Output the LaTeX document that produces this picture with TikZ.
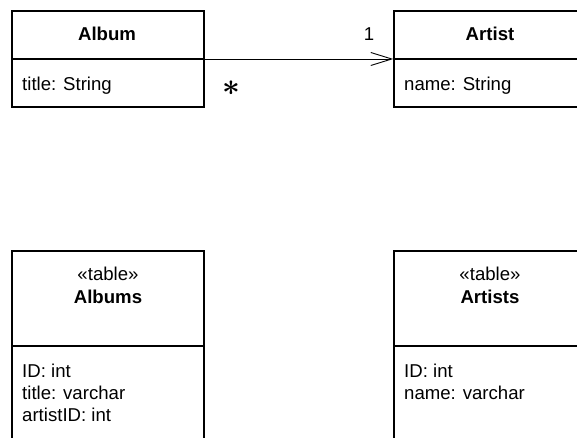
\documentclass[tikz,border=0pt]{standalone}
\usepackage{fontspec}
\setmainfont{Liberation Sans}
\usetikzlibrary{arrows.meta}
\begin{document}
\begin{tikzpicture}[x=1pt,y=-1pt,
  box/.style={draw, line width=1.4pt, minimum width=192pt, minimum height=96pt, inner sep=0pt},
  tbl/.style={draw, line width=1.4pt},
  lbl/.style={font=\fontsize{18.6}{22}\selectfont, inner sep=0pt},
  blbl/.style={font=\fontsize{18.6}{22}\selectfont\bfseries, inner sep=0pt, anchor=base},
  attr/.style={lbl, anchor=base west},
  conn/.style={line width=0.9pt}]
\useasboundingbox (0,0) rectangle (577,438);
\clip (0,0) rectangle (577,438);
% top classes
\node[box] (album) at (108,59) {};
\node[box] (artist) at (490,59) {};
\draw[line width=1.4pt] (album.west) -- (album.east);
\draw[line width=1.4pt] (artist.west) -- (artist.east);
\node[blbl] (albumname) at (107,41) {Album};
\node[blbl] (artistname) at (490,41) {Artist};
\node[attr] (albumattr) at (22,91) {title: String};
\node[attr] (artistattr) at (404,91) {name: String};
% association
\draw[conn, -{Straight Barb[length=21pt,width=13pt,line width=0.9pt]}] (album.east) -- (artist.west);
\node[lbl, anchor=base] (one) at (369,41) {1};
\node[inner sep=0pt] (many) at (231,88) {\scalebox{3.1}{\boldmath$\ast$}};
% tables
\coordinate (albumsTL) at (12,251);
\coordinate (albumsTR) at (204,251);
\coordinate (albumsBL) at (12,460);
\coordinate (albumsBR) at (204,460);
\draw[tbl] (albumsBL) -- (albumsTL) -- (albumsTR) -- (albumsBR);
\draw[tbl] (12,346) -- (204,346);
\coordinate (artistsTL) at (394,251);
\coordinate (artistsTR) at (590,251);
\coordinate (artistsBL) at (394,460);
\draw[tbl] (artistsBL) -- (artistsTL) -- (artistsTR);
\draw[tbl] (394,346) -- (590,346);
\node[lbl, anchor=base] (albumsst) at (108,280) {«table»};
\node[blbl] (albumsname) at (108,303) {Albums};
\node[lbl, anchor=base] (artistsst) at (490,280) {«table»};
\node[blbl] (artistsname) at (490,303) {Artists};
\node[attr] (a1) at (22,377) {ID: int};
\node[attr] (a2) at (22,399) {title: varchar};
\node[attr] (a3) at (22,421) {artistID: int};
\node[attr] (b1) at (404,377) {ID: int};
\node[attr] (b2) at (404,399) {name: varchar};
\end{tikzpicture}
\end{document}
